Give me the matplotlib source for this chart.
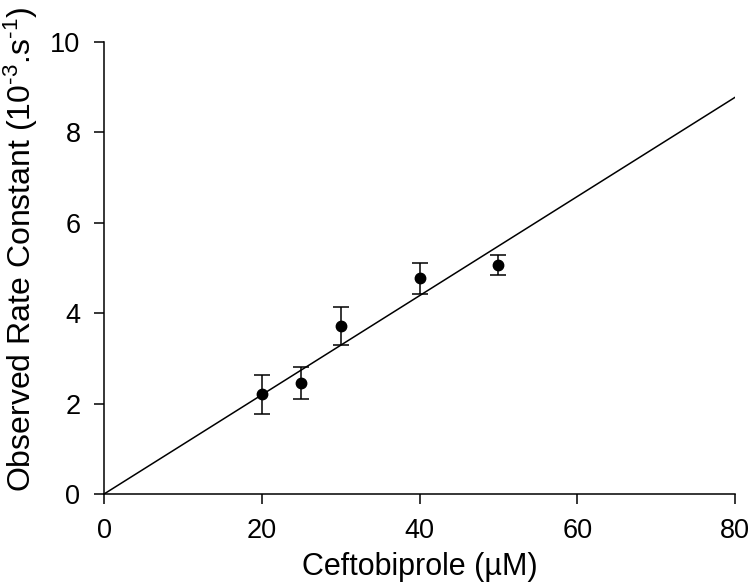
import numpy as np
import matplotlib
matplotlib.use('Agg')
import matplotlib.pyplot as plt

# Data
concentration = [20, 25, 30, 40, 50]
rateConstant = [2.21, 2.46, 3.72, 4.77, 5.07]
rateError = [0.43, 0.36, 0.42, 0.35, 0.22]
fitSlope = 0.1097
xTicks = [0, 20, 40, 60, 80]
yTicks = [0, 2, 4, 6, 8, 10]

plt.rcParams['font.family'] = ['Liberation Sans', 'DejaVu Sans']
plt.rcParams['mathtext.fontset'] = 'custom'
plt.rcParams['mathtext.rm'] = 'Liberation Sans'
plt.rcParams['mathtext.it'] = 'Liberation Sans'

fig = plt.figure(figsize=(7.5, 5.87), dpi=100)
ax = fig.add_axes([0.1387, 0.1584, 0.8413, 0.77])

# Linear fit through origin
fitX = np.array([0, 80])
ax.plot(fitX, fitSlope * fitX, color='black', linewidth=1.1)

ax.errorbar(concentration, rateConstant, yerr=rateError, fmt='o', color='black',
            markersize=7.5, capsize=6, elinewidth=1.1, capthick=1.1)

ax.set_xlim(0, 80)
ax.set_ylim(0, 10)
ax.set_xticks(xTicks)
ax.set_yticks(yTicks)
ax.tick_params(direction='out', length=7, width=1.1, labelsize=19.5, pad=10)
for side in ['top', 'right']:
    ax.spines[side].set_visible(False)
for side in ['left', 'bottom']:
    ax.spines[side].set_linewidth(1.1)

ax.set_xlabel('Ceftobiprole (µM)', fontsize=22, labelpad=6)
ax.set_ylabel(r'Observed Rate Constant (10$^{\text{-3}}$.s$^{\text{-1}}$)',
              fontsize=23)
# label sits a little above the axes centre, reaching the top edge
ax.yaxis.set_label_coords(-0.101, 0.542)

fig.savefig('out.png', dpi=100)
